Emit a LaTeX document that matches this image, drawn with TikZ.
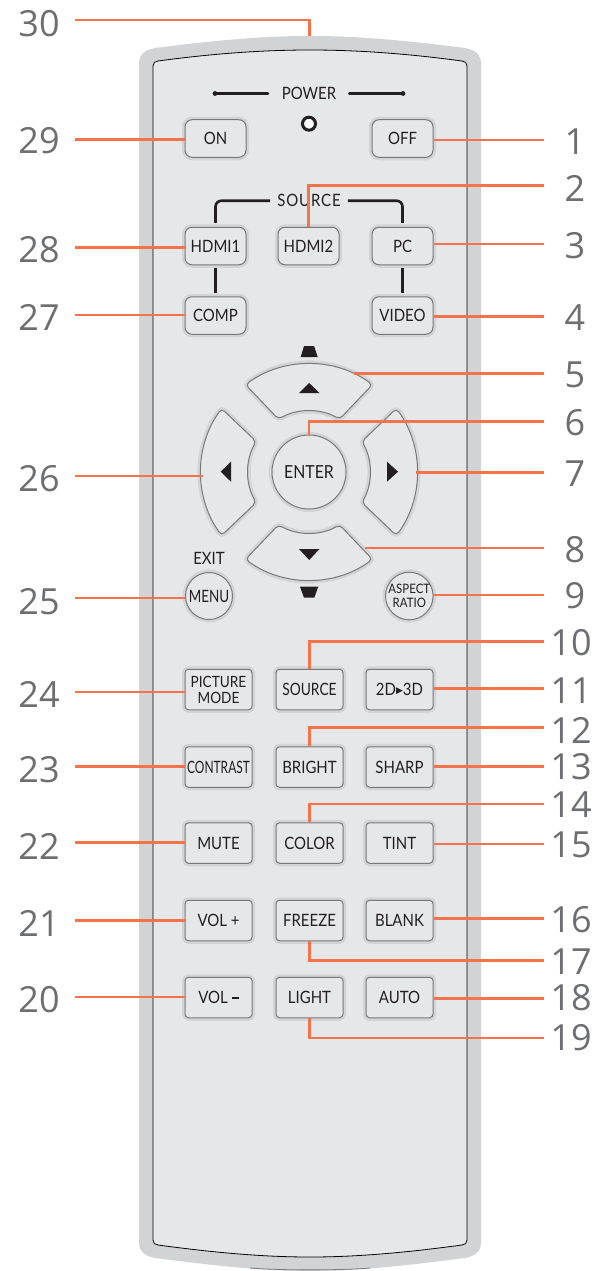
\documentclass[tikz,border=0pt]{standalone}
\usepackage{fontspec}
\setmainfont{Lato}[FakeStretch=0.88]
\newfontfamily\numfont{Open Sans}
\newfontfamily\symfont{DejaVu Sans}
\usetikzlibrary{calc}
\definecolor{bodyrim}{HTML}{D1D3D4}
\definecolor{bodyface}{HTML}{E6E7E8}
\definecolor{keyedge}{HTML}{77787B}
\definecolor{keyhalo}{HTML}{D3D4D6}
\definecolor{inkdark}{HTML}{231F20}
\definecolor{numgray}{HTML}{6D6E71}
\definecolor{leadcol}{HTML}{F4734A}
\tikzset{
	keybase/.style={draw=keyedge,line width=1pt,fill=bodyface,preaction={draw=keyhalo,line width=6pt},text=inkdark,inner sep=0pt,align=center,font=\fontsize{17}{17}\selectfont},
	smallkey/.style={keybase,rounded corners=7pt,minimum width=61pt,minimum height=37.5pt},
	widekey/.style={keybase,rounded corners=3.5pt,minimum width=67pt,minimum height=40.5pt},
	roundkey/.style={keybase,circle},
	padkey/.style={draw=keyedge,line width=1pt,fill=bodyface,preaction={draw=keyhalo,line width=6pt},rounded corners=4pt},
	caption/.style={text=inkdark,inner sep=0pt,font=\fontsize{17}{17}\selectfont},
	numlabel/.style={text=numgray,inner sep=0pt,font=\numfont\fontsize{36}{36}\selectfont},
	leader/.style={draw=leadcol,line width=2.6pt},
	srcline/.style={draw=inkdark,line width=2.6pt},
}
\begin{document}
\begin{tikzpicture}[x=1pt,y=1pt]
	\useasboundingbox (0,0) rectangle (598,-1271);
	\fill[bodyrim] (139,-1242) .. controls (139,-1252) and (145,-1256) .. (155,-1258) .. controls (210,-1265) and (260,-1271) .. (310,-1271) .. controls (360,-1271) and (410,-1265) .. (465,-1258) .. controls (475,-1256) and (481,-1252) .. (481,-1242) -- (481,-64) .. controls (481,-54) and (475,-50) .. (465,-48) .. controls (410,-41) and (360,-36) .. (310,-36) .. controls (260,-36) and (210,-41) .. (155,-48) .. controls (145,-50) and (139,-54) .. (139,-64) -- cycle;
	\draw[keyedge,line width=.8pt] (250,-1268) .. controls (280,-1270.5) and (340,-1270.5) .. (370,-1268);
	\draw[fill=bodyface,line width=.8pt] (153,-1240) .. controls (153,-1243) and (155,-1245) .. (158,-1245) .. controls (210,-1252) and (260,-1257) .. (310,-1257) .. controls (360,-1257) and (410,-1252) .. (462,-1245) .. controls (465,-1245) and (467,-1243) .. (467,-1240) -- (467,-66) .. controls (467,-63) and (465,-61) .. (462,-61) .. controls (410,-54) and (360,-50) .. (310,-50) .. controls (260,-50) and (210,-54) .. (158,-61) .. controls (155,-61) and (153,-63) .. (153,-66) -- cycle;
	\path
	(309.5,-36) coordinate (rimtop)
	(354,-373.5) coordinate (padup)
	(309,-435) coordinate (padok)
	(415.7,-472.7) coordinate (padright)
	(365,-548) coordinate (paddown)
	(203,-476) coordinate (padleft)
	;
	% power and source captions
	\node[caption] (power) at (309,-93.5) {POWER};
	\node[caption] (srccap) at (309,-200.7) {\addfontfeature{LetterSpace=5}SOURCE};
	\node[draw=inkdark,line width=3pt,fill=white,circle,inner sep=0pt,minimum size=13pt] (led) at (309,-123.7) {};
	\node[caption] (exit) at (209,-558) {EXIT};
	% keys
	\foreach \n/\x/\y/\t in {on/215.5/138.5/ON,off/402.5/138.5/OFF,hdmia/215.5/246/HDMI1,hdmib/308.5/246/HDMI2,pc/402.5/246/PC,comp/215.5/315.5/COMP,video/402.5/315.5/VIDEO}
		\node[smallkey] (\n) at (\x,-\y) {\t};
	\foreach \n/\x/\y/\t in {bright/309.5/767/BRIGHT,sharp/399.5/767/SHARP,mute/218.5/843/MUTE,color/309.5/843/COLOR,tint/399.5/843/TINT,volup/218.5/920.5/VOL +,freeze/309.5/920.5/FREEZE,blank/399.5/920.5/BLANK,light/309.5/997.5/LIGHT,auto/399.5/997.5/AUTO}
		\node[widekey] (\n) at (\x,-\y) {\t};
	\node[widekey] (voldn) at (218.5,-997.5) {VOL \rule[4.5pt]{7pt}{2pt}};
	\node[widekey] (srckey) at (309.5,-689.5) {\scalebox{.92}[1]{SOURCE}};
	\node[widekey,font=\fontsize{15.5}{16}\selectfont] (picmode) at (218.5,-689.5) {PICTURE\\MODE};
	\node[widekey] (contrast) at (218.5,-767) {\scalebox{.8}[1]{CONTRAST}};
	\node[widekey] (convert) at (399.5,-689.5) {2D\raisebox{1.6pt}{\symfont\fontsize{9}{9}\selectfont▶}3D};
	\node[roundkey,minimum size=47pt] (menu) at (209,-596) {\scalebox{.9}[1]{MENU}};
	\node[roundkey,minimum size=47pt,font=\fontsize{13}{13.5}\selectfont] (aspect) at (409.3,-596) {ASPECT\\RATIO};
	\node[roundkey,minimum size=74pt,font=\fontsize{18}{18}\selectfont] (enter) at (309,-472) {ENTER};
	% pad
	\begin{scope}[shift={(309,-472)}]
		\foreach \a in {90,0,-90,180}
			\draw[padkey] (\a+36:108) arc[start angle=\a+36,end angle=\a-36,radius=108] -- (\a-30:61) arc[start angle=\a-30,end angle=\a+30,radius=61] -- cycle;
	\end{scope}
	\fill[inkdark] (299,-393) -- (309.2,-383) -- (319.5,-393) -- cycle;
	\fill[inkdark] (299,-549) -- (319.5,-549) -- (309.2,-560) -- cycle;
	\fill[inkdark] (231,-461.7) -- (220.7,-471.7) -- (231,-481.7) -- cycle;
	\fill[inkdark] (387,-461.7) -- (398,-471.7) -- (387,-481.7) -- cycle;
	\fill[inkdark] (300.7,-357) -- (304,-346) -- (314,-346) -- (317.7,-357) -- cycle;
	\fill[inkdark] (300,-586.7) -- (318.3,-586.7) -- (314.3,-597.7) -- (304,-597.7) -- cycle;
	% black rules
	\draw[srcline,line cap=round] (268,-93.5) -- (215,-93.5);
	\draw[srcline,line cap=round] (349.3,-93.5) -- (403,-93.5);
	\fill[inkdark] (215,-93.5) circle (2.4) (403,-93.5) circle (2.4);
	\draw[srcline,rounded corners=6pt,shorten <=7pt,shorten >=4pt] (srccap.west) -| (hdmia.north);
	\draw[srcline,rounded corners=6pt,shorten <=7pt,shorten >=4pt] (srccap.east) -| (pc.north);
	\draw[srcline,shorten <=3pt,shorten >=3pt] (hdmia.south) -- (comp.north);
	\draw[srcline,shorten <=3pt,shorten >=3pt] (pc.south) -- (video.north);
	% numbers
	\foreach \t/\y/\ly in {1/140/142,2/185.5/188,3/244/246,4/316.7/318,5/373.5/375,6/421.7/423,7/472.7/474,8/548/550,9/595/596}{
		\coordinate (e\t) at (544,-\y);
		\node[numlabel] (n\t) at (575,-\ly) {\t};
	}
	\foreach \t/\y/\ly in {10/641.7/643,11/688.7/691,12/727.7/730,13/766.7/767,14/804/805,15/844/845,16/918.7/920,17/960.7/962,18/998.3/998,19/1038/1038}{
		\coordinate (e\t) at (544,-\y);
		\node[numlabel] (n\t) at (571,-\ly) {\t};
	}
	\foreach \t/\y/\ly in {20/997/1000,21/920.7/923,22/842.7/846,23/766.7/770,24/692/694,25/598/602,26/476/479,27/315/317,28/247.7/250,29/139.7/141,30/20/24}{
		\coordinate (e\t) at (75,-\y);
		\node[numlabel] (n\t) at (39,-\ly) {\t};
	}
	% leaders
	\draw[leader] (off.east |- e1) -- (e1);
	\draw[leader] (hdmib.north) |- (e2);
	\draw[leader] (pc.east |- e3) -- (e3);
	\draw[leader] (video.east |- e4) -- (e4);
	\draw[leader] (padup) -- (padup -| e5);
	\draw[leader] (padok) |- (e6);
	\draw[leader] (padright) -- (padright -| e7);
	\draw[leader] (paddown) -- (paddown -| e8);
	\draw[leader] (aspect.east |- e9) -- (e9);
	\draw[leader] (srckey.north) |- (e10);
	\draw[leader] (convert.east |- e11) -- (e11);
	\draw[leader] (bright.north) |- (e12);
	\draw[leader] (sharp.east |- e13) -- (e13);
	\draw[leader] (color.north) |- (e14);
	\draw[leader] (tint.east |- e15) -- (e15);
	\draw[leader] (blank.east |- e16) -- (e16);
	\draw[leader] (freeze.south) |- (e17);
	\draw[leader] (auto.east |- e18) -- (e18);
	\draw[leader] (light.south) |- (e19);
	\draw[leader] (e20) -- (voldn.west |- e20);
	\draw[leader] (e21) -- (volup.west |- e21);
	\draw[leader] (e22) -- (mute.west |- e22);
	\draw[leader] (e23) -- (contrast.west |- e23);
	\draw[leader] (e24) -- (picmode.west |- e24);
	\draw[leader] (e25) -- (menu.west |- e25);
	\draw[leader] (e26) -- (padleft);
	\draw[leader] (e27) -- (comp.west |- e27);
	\draw[leader] (e28) -- (hdmia.west |- e28);
	\draw[leader] (e29) -- (on.west |- e29);
	\draw[leader] (e30) -| (rimtop);
\end{tikzpicture}
\end{document}
